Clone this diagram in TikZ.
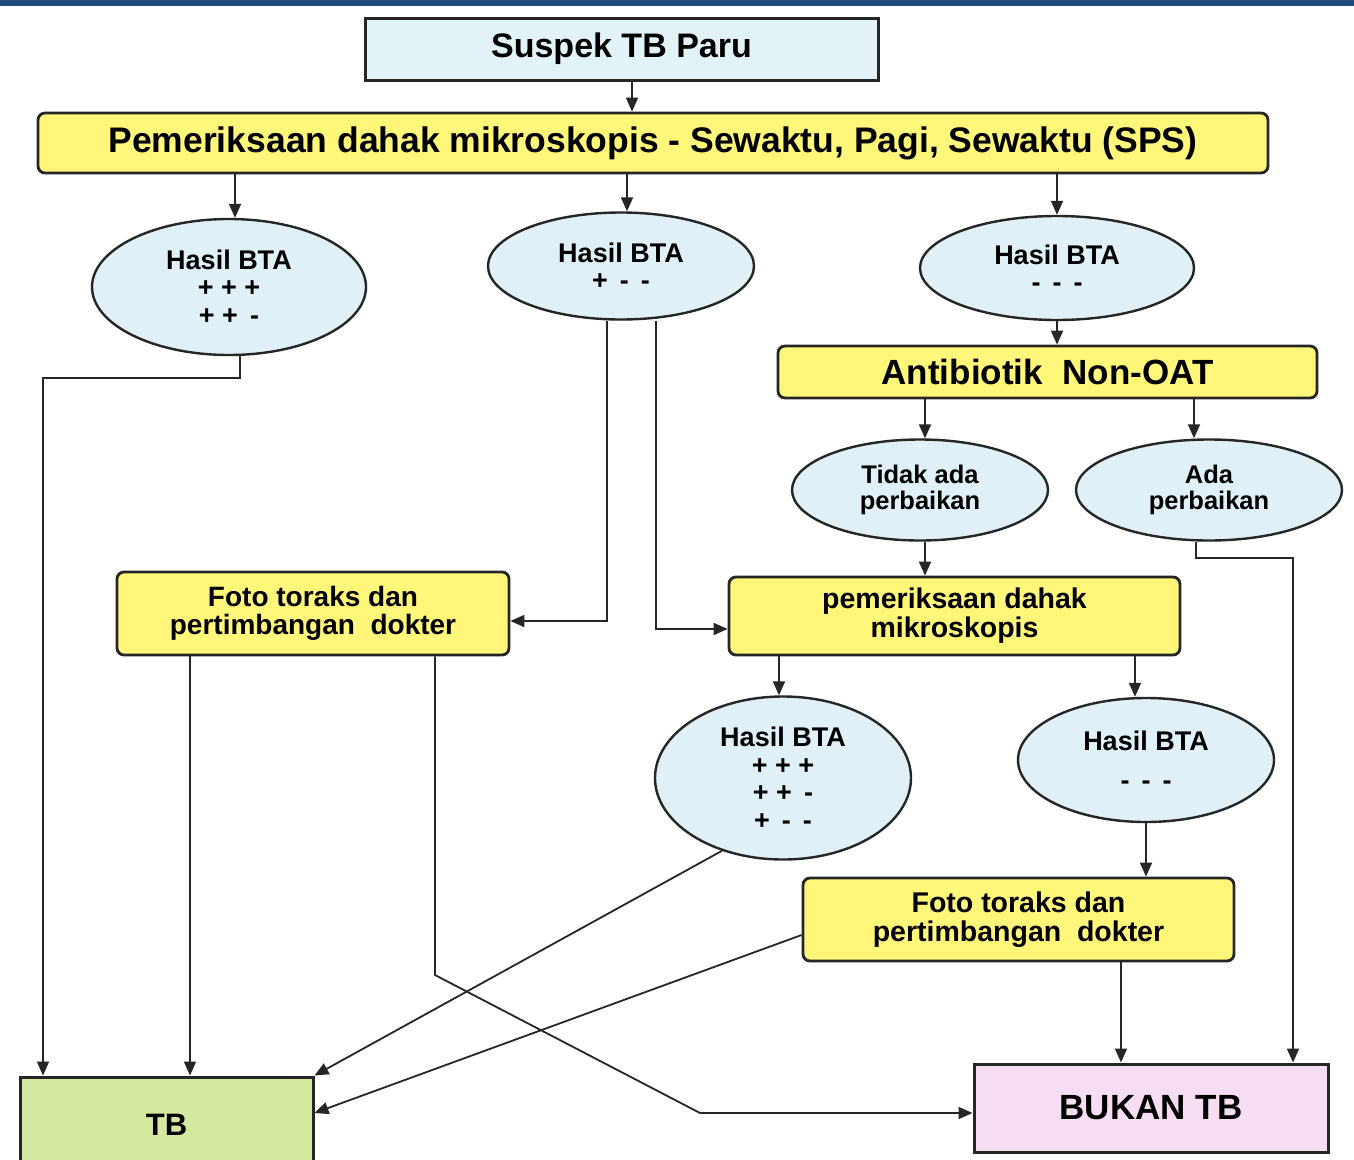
\documentclass[tikz,border=0pt]{standalone}
\usepackage{fontspec}
\setmainfont{Liberation Sans}
\usetikzlibrary{arrows.meta,shapes.geometric}
\definecolor{barblue}{HTML}{1F4A7E}
\definecolor{boxyellow}{HTML}{FFF67A}
\definecolor{ovalblue}{HTML}{DFF1F6}
\definecolor{topblue}{HTML}{E2F3F8}
\definecolor{tbgreen}{HTML}{D5E8A0}
\definecolor{notpink}{HTML}{F6DDF1}
\definecolor{ink}{HTML}{262626}
\tikzset{
  ybox/.style={draw=ink, line width=2.8pt, fill=boxyellow, rounded corners=7pt, inner sep=0pt, align=center},
  oval/.style={draw=ink, line width=2.4pt, fill=ovalblue, ellipse, inner sep=0pt, align=center, font=\fontsize{27}{27.5}\selectfont\bfseries},
  sbox/.style={draw=ink, line width=3pt, inner sep=0pt, align=center},
  conn/.style={draw=ink, line width=1.8pt},
  arr/.style={conn, -{Triangle[length=14pt,width=12pt]}},
}
\begin{document}
\begin{tikzpicture}[x=1pt,y=-1pt]
\useasboundingbox (0,0) rectangle (1354,1159);
\fill[white] (0,0) rectangle (1354,1159);
\fill[barblue] (0,0) rectangle (1354,6);

% nodes
\node[sbox, fill=topblue, minimum width=513pt, minimum height=62pt, font=\fontsize{34}{34}\selectfont\bfseries] (suspek) at (621.5,49) {Suspek TB Paru};
\node[ybox, minimum width=1230pt, minimum height=60pt, font=\fontsize{35.5}{35}\selectfont\bfseries] (pem) at (653,143) {Pemeriksaan dahak mikroskopis - Sewaktu, Pagi, Sewaktu (SPS)};

\node[oval, minimum width=274pt, minimum height=136pt] (e1) at (229,287) {Hasil BTA\\+ + +\\+ + \,-};
\node[oval, minimum width=266pt, minimum height=107pt] (e2) at (621,266) {Hasil BTA\\+ \,- \,-};
\node[oval, minimum width=274pt, minimum height=104pt] (e3) at (1057,268) {Hasil BTA\\- \,- \,-};

\node[ybox, minimum width=539pt, minimum height=52pt, font=\fontsize{35}{35}\selectfont\bfseries] (anti) at (1047.5,372) {Antibiotik~~Non-OAT};

\node[oval, minimum width=256pt, minimum height=101pt, font=\fontsize{25.5}{26}\selectfont\bfseries] (tidak) at (920,490) {Tidak ada\\perbaikan};
\node[oval, minimum width=266pt, minimum height=101pt, font=\fontsize{25.5}{26}\selectfont\bfseries] (ada) at (1209,490) {Ada\\perbaikan};

\node[ybox, minimum width=392pt, minimum height=83pt, font=\fontsize{28}{28.5}\selectfont\bfseries] (foto1) at (313,613.5) {Foto toraks dan\\pertimbangan~~dokter};
\node[ybox, minimum width=451pt, minimum height=78pt, font=\fontsize{28.5}{29}\selectfont\bfseries] (pem2) at (954.5,616) {pemeriksaan dahak\\mikroskopis};

\node[oval, minimum width=256pt, minimum height=163pt] (e4) at (783,778) {Hasil BTA\\+ + +\\+ + \,-\\+ \,- \,-};
\node[oval, minimum width=256pt, minimum height=124pt] (e5) at (1146,760) {Hasil BTA\\[12pt]- \,- \,-};

\node[ybox, minimum width=431pt, minimum height=83pt, font=\fontsize{28.5}{29}\selectfont\bfseries] (foto2) at (1018.5,919.5) {Foto toraks dan\\pertimbangan~~dokter};

\node[sbox, fill=tbgreen, minimum width=293pt, minimum height=96pt, font=\fontsize{31}{31}\selectfont\bfseries] (tb) at (166.5,1125) {\raisebox{-3pt}{TB}};
\node[sbox, fill=notpink, minimum width=354pt, minimum height=88pt, font=\fontsize{35}{35}\selectfont\bfseries] (bukan) at (1151,1108) {BUKAN TB};

% connectors
\draw[arr] (suspek.south -| 632,0) -- (pem.north -| 632,0);
\draw[arr] (pem.south -| 235,0) -- (e1.north -| 235,0);
\draw[arr] (pem.south -| 627,0) -- (e2.north -| 627,0);
\draw[arr] (pem.south -| 1057,0) -- (e3.north);
\draw[arr] (e3.south) -- (anti.north -| e3.south);
\draw[arr] (anti.south -| 925,0) -- (tidak.north -| 925,0);
\draw[arr] (anti.south -| 1194,0) -- (ada.north -| 1194,0);
\draw[arr] (tidak.south -| 925,0) -- (pem2.north -| 925,0);
\draw[arr] (e2.south -| 607,0) |- ([yshift=-7.5pt]foto1.east);
\draw[arr] (e2.south -| 656,0) |- ([yshift=-13pt]pem2.west);
\draw[arr] (e1.south -| 240,0) |- (43,378) -- (tb.north -| 43,0);
\draw[arr] (foto1.south -| 190,0) -- (tb.north -| 190,0);
\draw[arr] (foto1.south -| 435,0) -- (435,975) -- (700,1113) -- ([yshift=-5pt]bukan.west);
\draw[arr] (pem2.south -| 779,0) -- (e4.north -| 779,0);
\draw[arr] (pem2.south -| 1135,0) -- (e5.north -| 1135,0);
\draw[arr] (e5.south) -- (foto2.north -| e5.south);
\draw[arr] (e4.230) -- (tb.north east);
\draw[arr] ([yshift=-15.5pt]foto2.west) -- ([yshift=12pt]tb.east);
\draw[arr] (foto2.south -| 1121,0) -- (bukan.north -| 1121,0);
\draw[arr] (ada.south -| 1196,0) |- (1293,558) -- (bukan.north -| 1293,0);
\end{tikzpicture}
\end{document}
